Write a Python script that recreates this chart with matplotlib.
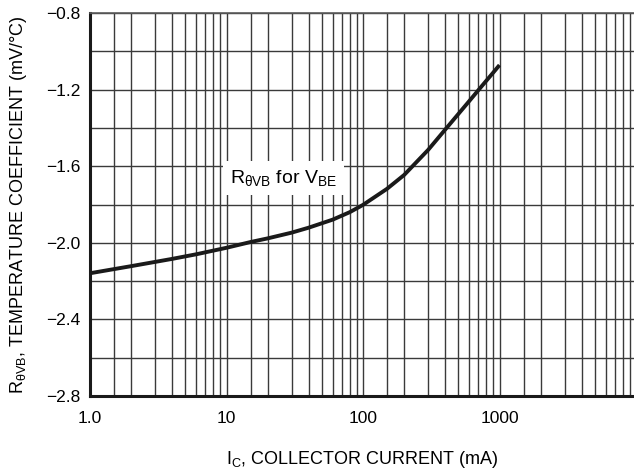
import numpy as np
import matplotlib.pyplot as plt
from matplotlib.ticker import FixedLocator, NullFormatter

# curve (collector current in mA, coefficient in mV/°C)
ic_ma = [1, 2, 4, 6, 10, 15, 20, 30, 40, 60, 80, 100,
         150, 200, 300, 400, 500, 600, 700, 800, 900, 1000]
coeff = [-2.159, -2.122, -2.084, -2.060, -2.026, -1.996, -1.977, -1.947, -1.921,
         -1.879, -1.840, -1.802, -1.718, -1.646, -1.515, -1.409, -1.327, -1.260,
         -1.203, -1.154, -1.111, -1.072]

x_ticks = [1, 10, 100, 1000]
x_ticklabels = ["1.0", "10", "100", "1000"]
y_ticks = [-2.8, -2.4, -2.0, -1.6, -1.2, -0.8]
y_ticklabels = ["\u22122.8", "\u22122.4", "\u22122.0", "\u22121.6", "\u22121.2", "\u22120.8"]

plt.rcParams['font.family'] = ['Liberation Sans', 'DejaVu Sans']
plt.rcParams['mathtext.fontset'] = 'custom'
plt.rcParams['mathtext.rm'] = 'Liberation Sans'
plt.rcParams['mathtext.it'] = 'Liberation Sans'

fig = plt.figure(figsize=(6.34, 4.73), dpi=100)
ax = fig.add_axes([90 / 634, 1 - 396 / 473, 1 - 90 / 634, (396 - 13) / 473])

ax.set_xscale('log')
ax.set_xlim(1, 10 ** (544 / 136.5))
ax.set_ylim(-2.8, -0.8)

# grid: 1, 1.5, 2 ... 9 in every decade
minor = [m * 10 ** k for k in range(4) for m in [1.5, 2, 3, 4, 5, 6, 7, 8, 9]]
ax.xaxis.set_major_locator(FixedLocator(x_ticks))
ax.xaxis.set_minor_locator(FixedLocator(minor))
ax.xaxis.set_minor_formatter(NullFormatter())
ax.set_xticklabels(x_ticklabels)
ax.set_yticks(y_ticks)
ax.set_yticklabels(y_ticklabels)
ax.set_yticks(np.arange(-2.6, -0.8, 0.4), minor=True)

ax.grid(True, which='both', color='#3a3a3a', linewidth=1.0)
ax.tick_params(which='both', length=0, labelsize=12.5, colors='black')
ax.tick_params(axis='x', pad=11)
ax.tick_params(axis='y', pad=7)

for s in ['left', 'bottom']:
    ax.spines[s].set_linewidth(2.2)
    ax.spines[s].set_color('#1a1a1a')
ax.spines['right'].set_visible(False)
ax.spines['top'].set_color('#5a5a5a')
ax.spines['top'].set_linewidth(1.2)

ax.plot(ic_ma, coeff, color='#1a1a1a', linewidth=2.8, solid_capstyle='butt',
        solid_joinstyle='round', zorder=3)

ax.text(26, -1.66, r'R$_{\theta\mathrm{VB}}$ for V$_{\mathrm{BE}}$', fontsize=14,
        ha='center', va='center', zorder=4,
        bbox=dict(facecolor='white', edgecolor='none', pad=5))

ax.set_xlabel(r'I$_{\mathrm{C}}$, COLLECTOR CURRENT (mA)', fontsize=13, labelpad=16)
ax.set_ylabel(r'R$_{\theta\mathrm{VB}}$, TEMPERATURE COEFFICIENT (mV/°C)', fontsize=13, labelpad=12)

plt.savefig("out.png", dpi=100)
